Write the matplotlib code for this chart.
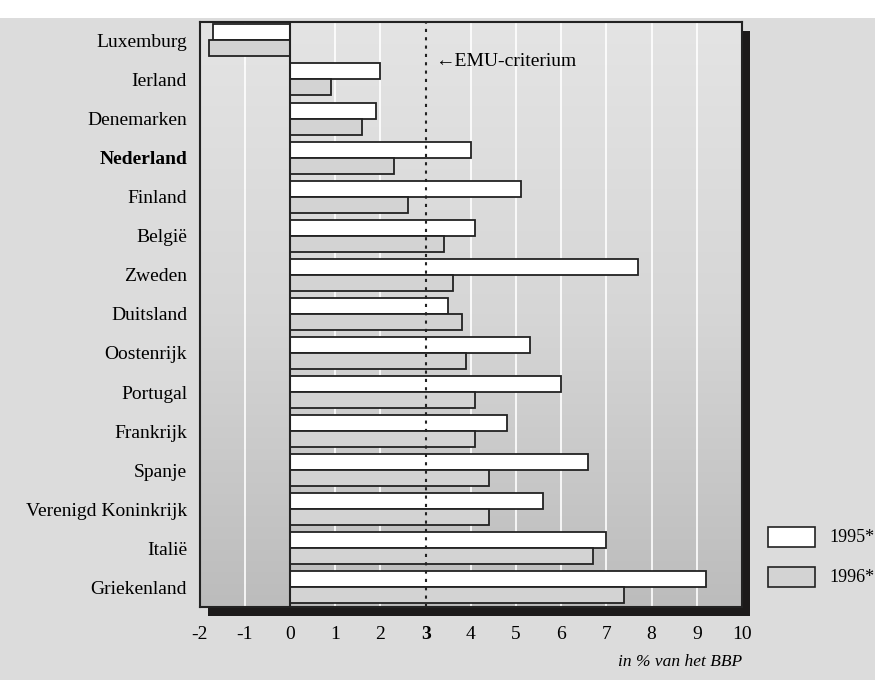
import numpy as np
import matplotlib
matplotlib.use("Agg")
import matplotlib.pyplot as plt
from matplotlib.patches import Rectangle
from matplotlib.colors import LinearSegmentedColormap

countries = ["Luxemburg", "Ierland", "Denemarken", "Nederland", "Finland", "België",
             "Zweden", "Duitsland", "Oostenrijk", "Portugal", "Frankrijk", "Spanje",
             "Verenigd Koninkrijk", "Italië", "Griekenland"]
deficit_1995 = [-1.7, 2.0, 1.9, 4.0, 5.1, 4.1, 7.7, 3.5, 5.3, 6.0, 4.8, 6.6, 5.6, 7.0, 9.2]
deficit_1996 = [-1.8, 0.9, 1.6, 2.3, 2.6, 3.4, 3.6, 3.8, 3.9, 4.1, 4.1, 4.4, 4.4, 6.7, 7.4]
x_ticks = [-2, -1, 0, 1, 2, 3, 4, 5, 6, 7, 8, 9, 10]
emu_limit = 3
series_labels = ["1995*", "1996*"]

W, H = 875, 680
fam = ["Liberation Serif", "DejaVu Serif"]
plt.rcParams["font.family"] = fam
plt.rcParams["font.size"] = 14

fig = plt.figure(figsize=(W / 100, H / 100), dpi=100)
fig.patch.set_facecolor("#dcdcdc")
# white strip along the top edge
fig.add_artist(Rectangle((0, (H - 18) / H), 1, 18 / H, transform=fig.transFigure,
                         facecolor="white", edgecolor="none", zorder=0.1))

ax_l, ax_r, ax_t, ax_b = 199.6, 742, 22, 607
ax = fig.add_axes([ax_l / W, (H - ax_b) / H, (ax_r - ax_l) / W, (ax_b - ax_t) / H])
ax.set_zorder(1)

# drop shadow behind the plot frame
dx, dy = 8, 9
fig.add_artist(Rectangle(((ax_l + dx) / W, (H - ax_b - dy) / H), (ax_r - ax_l) / W,
                         (ax_b - ax_t) / H, transform=fig.transFigure,
                         facecolor="#1c1a1a", edgecolor="none", zorder=0.5))

y0, y1 = -0.47, 14.5
xmin, xmax = -2, 10
ax.set_xlim(xmin, xmax)
ax.set_ylim(y1, y0)

# vertical gradient background
cmap = LinearSegmentedColormap.from_list("bg", ["#e4e4e4", "#d6d6d6", "#bcbcbc"])
grad = np.linspace(0, 1, 256).reshape(-1, 1)
ax.imshow(grad, extent=[xmin, xmax, y1, y0], aspect="auto", cmap=cmap, zorder=0)

for gx in x_ticks:
    if gx in (xmin, xmax, 0, emu_limit):
        continue
    ax.axvline(gx, color="white", lw=1.2, zorder=1)

pos = np.arange(len(countries))
h = 0.41
ax.barh(pos - h / 2, deficit_1995, height=h, color="white", edgecolor="#222222",
        lw=1.3, zorder=2)
ax.barh(pos + h / 2, deficit_1996, height=h, color="#d3d3d3", edgecolor="#222222",
        lw=1.3, zorder=2)

ax.axvline(0, color="#222222", lw=1.5, zorder=3)
ax.axvline(emu_limit, color="#222222", lw=1.5, ls=(0, (1.5, 2.5)), zorder=3)
ax.text(3.2, 0.55, "←EMU-criterium", fontsize=14, va="center", ha="left", zorder=4)

ax.set_yticks(pos)
ax.set_yticklabels(countries)
ax.set_xticks(x_ticks)
ax.set_xticklabels([str(t) for t in x_ticks])
ax.tick_params(length=0)
ax.tick_params(axis="y", pad=9)
ax.tick_params(axis="x", pad=14)
for lab in ax.get_yticklabels():
    if lab.get_text() == "Nederland":
        lab.set_fontweight("bold")
for lab in ax.get_xticklabels():
    if lab.get_text() == str(emu_limit):
        lab.set_fontweight("bold")

for sp in ax.spines.values():
    sp.set_color("#222222")
    sp.set_linewidth(1.5)

fig.text(ax_r / W, (H - 662) / H, "in % van het BBP", ha="right", va="center",
         style="italic", fontsize=12.5)

# legend boxes
for i, (lbl, col) in enumerate(zip(series_labels, ["white", "#d3d3d3"])):
    top = 527 + i * 40
    fig.add_artist(Rectangle((768 / W, (H - top - 20) / H), 47 / W, 20 / H,
                             transform=fig.transFigure, facecolor=col,
                             edgecolor="#222222", lw=1.2, zorder=2))
    fig.text(829 / W, (H - top - 11) / H, lbl, ha="left", va="center", fontsize=13)

fig.savefig("out.png", dpi=100, facecolor=fig.get_facecolor())
